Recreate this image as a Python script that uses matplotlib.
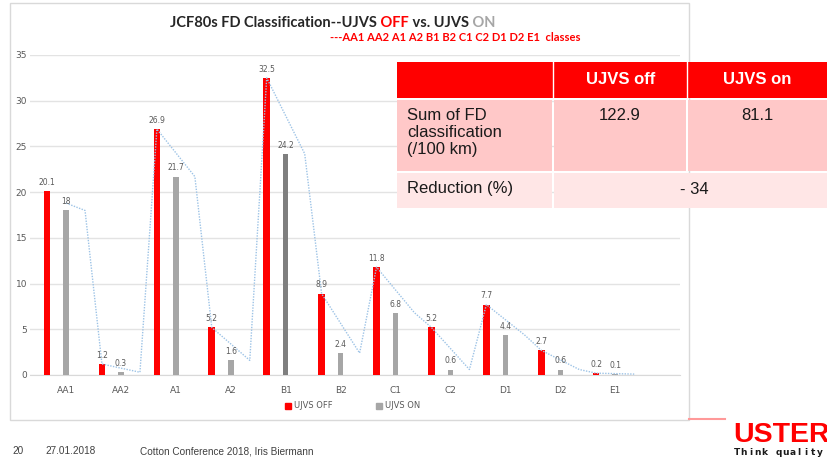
import matplotlib
matplotlib.use('Agg')
import matplotlib.pyplot as plt
from matplotlib.patches import Rectangle
from matplotlib.lines import Line2D
from matplotlib.text import Annotation

categories = ['AA1', 'AA2', 'A1', 'A2', 'B1', 'B2', 'C1', 'C2', 'D1', 'D2', 'E1']
ujvs_off = [20.1, 1.2, 26.9, 5.2, 32.5, 8.9, 11.8, 5.2, 7.7, 2.7, 0.2]
ujvs_on = [18, 0.3, 21.7, 1.6, 24.2, 2.4, 6.8, 0.6, 4.4, 0.6, 0.1]
off_labels = ['20.1', '1.2', '26.9', '5.2', '32.5', '8.9', '11.8', '5.2', '7.7', '2.7', '0.2']
on_labels = ['18', '0.3', '21.7', '1.6', '24.2', '2.4', '6.8', '0.6', '4.4', '0.6', '0.1']
line_start_value = 18.8
yticks = [0, 5, 10, 15, 20, 25, 30, 35]
series_names = ['UJVS OFF', 'UJVS ON']
table_header = ['', 'UJVS off', 'UJVS on']
table_sum = ['Sum of FD\nclassification\n(/100 km)', '122.9', '81.1']
table_reduction = ['Reduction (%)', '- 34']
footer = ['20', '27.01.2018', 'Cotton Conference 2018, Iris Biermann']

W, H = 828, 459
fig = plt.figure(figsize=(W / 100, H / 100), dpi=100)
fig.patch.set_facecolor('white')

def fx(px):
    return px / W

def fy(py):
    return 1 - py / H

# chart frame
fig.patches.append(Rectangle((fx(10), fy(420)), fx(679), 417 / H, transform=fig.transFigure,
                             facecolor='none', edgecolor='#d9d9d9', lw=1.0, zorder=0))

ax = fig.add_axes([fx(30), fy(375), fx(650), (375 - 55) / H])
ax.set_facecolor('none')
x = list(range(len(categories)))
off_pos = [i - 0.346 for i in x]
on_pos = [i for i in x]
third_pos = [i + 0.346 for i in x]

on_colors = ['#7f7f7f' if c == 'B1' else '#a6a6a6' for c in categories]
ax.bar(off_pos, ujvs_off, width=0.12, color='#ff0000', zorder=3, label=series_names[0])
ax.bar(on_pos, ujvs_on, width=0.10, color=on_colors, zorder=3, label=series_names[1])

for p, v, t in zip(off_pos, ujvs_off, off_labels):
    ax.annotate(t, (p, v), xytext=(0, 3), textcoords='offset points', ha='center', va='bottom',
                fontsize=5.5, color='#595959', zorder=5)
for p, v, t in zip(on_pos, ujvs_on, on_labels):
    ax.annotate(t, (p, v), xytext=(0, 3), textcoords='offset points', ha='center', va='bottom',
                fontsize=5.5, color='#595959', zorder=5)

# dotted trend line
lx = [on_pos[0], third_pos[0]]
ly = [line_start_value, ujvs_on[0]]
for i in x[1:]:
    lx += [off_pos[i], third_pos[i]]
    ly += [ujvs_off[i], ujvs_on[i]]
ax.plot(lx, ly, color='#9dc3e6', lw=1.0, linestyle=(0, (1, 1)), zorder=4)

ax.set_ylim(0, 35)
ax.set_xlim(-0.656, 11.18)
ax.set_yticks(yticks)
ax.set_xticks(x)
ax.set_xticklabels(categories)
ax.yaxis.grid(True, color='#e3e3e3', lw=1.0, zorder=0)
ax.set_axisbelow(True)
for s in ['top', 'right', 'left']:
    ax.spines[s].set_visible(False)
ax.spines['bottom'].set_color('#d9d9d9')
ax.tick_params(axis='both', length=0, labelsize=6.5, labelcolor='#595959')
ax.tick_params(axis='x', pad=8)
ax.tick_params(axis='y', pad=2)

handles = [Line2D([], [], marker='s', color='#ff0000', ls='none', markersize=4),
           Line2D([], [], marker='s', color='#a6a6a6', ls='none', markersize=4)]
fig.legend(handles, series_names, loc='center', bbox_to_anchor=(fx(352), fy(406)), ncol=2,
           frameon=False, fontsize=6, labelcolor='#595959', handletextpad=0.3,
           columnspacing=5, handlelength=1.0)

# title
tf = dict(fontsize=10.5, fontweight='bold', family='Lato')
t1 = fig.text(fx(170), fy(27), 'JCF80s FD Classification--UJVS', color='#262626', **tf)
a2 = fig.add_artist(Annotation(' OFF', xy=(1, 0), xycoords=t1, va='bottom', color='#ff0000', **tf))
a3 = fig.add_artist(Annotation(' vs. UJVS', xy=(1, 0), xycoords=a2, va='bottom', color='#262626', **tf))
a4 = fig.add_artist(Annotation(' ON', xy=(1, 0), xycoords=a3, va='bottom', color='#a6a6a6', **tf))
fig.text(fx(330), fy(41), '---' + ' '.join(categories) + '  classes', color='#ff0000',
         fontsize=8, fontweight='bold', family='Lato')

# table
def rect(x0, y0, x1, y1, color):
    fig.patches.append(Rectangle((fx(x0), fy(y1)), fx(x1 - x0), (y1 - y0) / H,
                                 transform=fig.transFigure, facecolor=color, edgecolor='none', zorder=5))

rect(397, 62, 828, 98, '#ff0000')
rect(397, 100, 552, 171, '#ffc8c8')
rect(554, 100, 686, 171, '#ffc8c8')
rect(688, 100, 828, 171, '#ffc8c8')
rect(397, 173, 552, 208, '#ffe6e6')
rect(554, 173, 828, 208, '#ffe6e6')
fig.lines.append(Line2D([fx(553), fx(553)], [fy(62), fy(98)], transform=fig.transFigure,
                        color='white', lw=1, zorder=6))
fig.lines.append(Line2D([fx(687), fx(687)], [fy(62), fy(98)], transform=fig.transFigure,
                        color='white', lw=1, zorder=6))

tt = dict(family='Liberation Sans', fontsize=12, zorder=10)
fig.text(fx(621), fy(80), table_header[1], color='white', fontweight='bold', ha='center', va='center', **tt)
fig.text(fx(757), fy(80), table_header[2], color='white', fontweight='bold', ha='center', va='center', **tt)
fig.text(fx(407), fy(108), table_sum[0], color='#1a1a1a', ha='left', va='top', linespacing=1.15, **tt)
fig.text(fx(620), fy(108), table_sum[1], color='#1a1a1a', ha='center', va='top', **tt)
fig.text(fx(757), fy(108), table_sum[2], color='#1a1a1a', ha='center', va='top', **tt)
fig.text(fx(407), fy(189), table_reduction[0], color='#1a1a1a', ha='left', va='center', **tt)
fig.text(fx(694), fy(189), table_reduction[1], color='#1a1a1a', ha='center', va='center', **tt)

# footer
ff = dict(family='Liberation Sans', fontsize=7.2, color='#404040', va='baseline')
fig.text(fx(12), fy(454), footer[0], **ff)
fig.text(fx(45), fy(454), footer[1], **ff)
fig.text(fx(140), fy(454), footer[2], **ff)

# logo
fig.lines.append(Line2D([fx(689), fx(725)], [fy(419), fy(419)], transform=fig.transFigure,
                        color='#ff9999', lw=1.5))
fig.text(fx(733), fy(442), 'USTER', color='#ff0000', fontsize=20.5, fontweight='bold',
         family='Liberation Sans', va='baseline')
for k, ch in enumerate('Think quality'):
    fig.text(fx(737 + 6.9 * k), fy(455), ch, color='#1a1a1a', fontsize=6.5, fontweight='bold',
             family='DejaVu Sans', ha='center', va='baseline')

fig.savefig('out.png', dpi=100, facecolor='white')
